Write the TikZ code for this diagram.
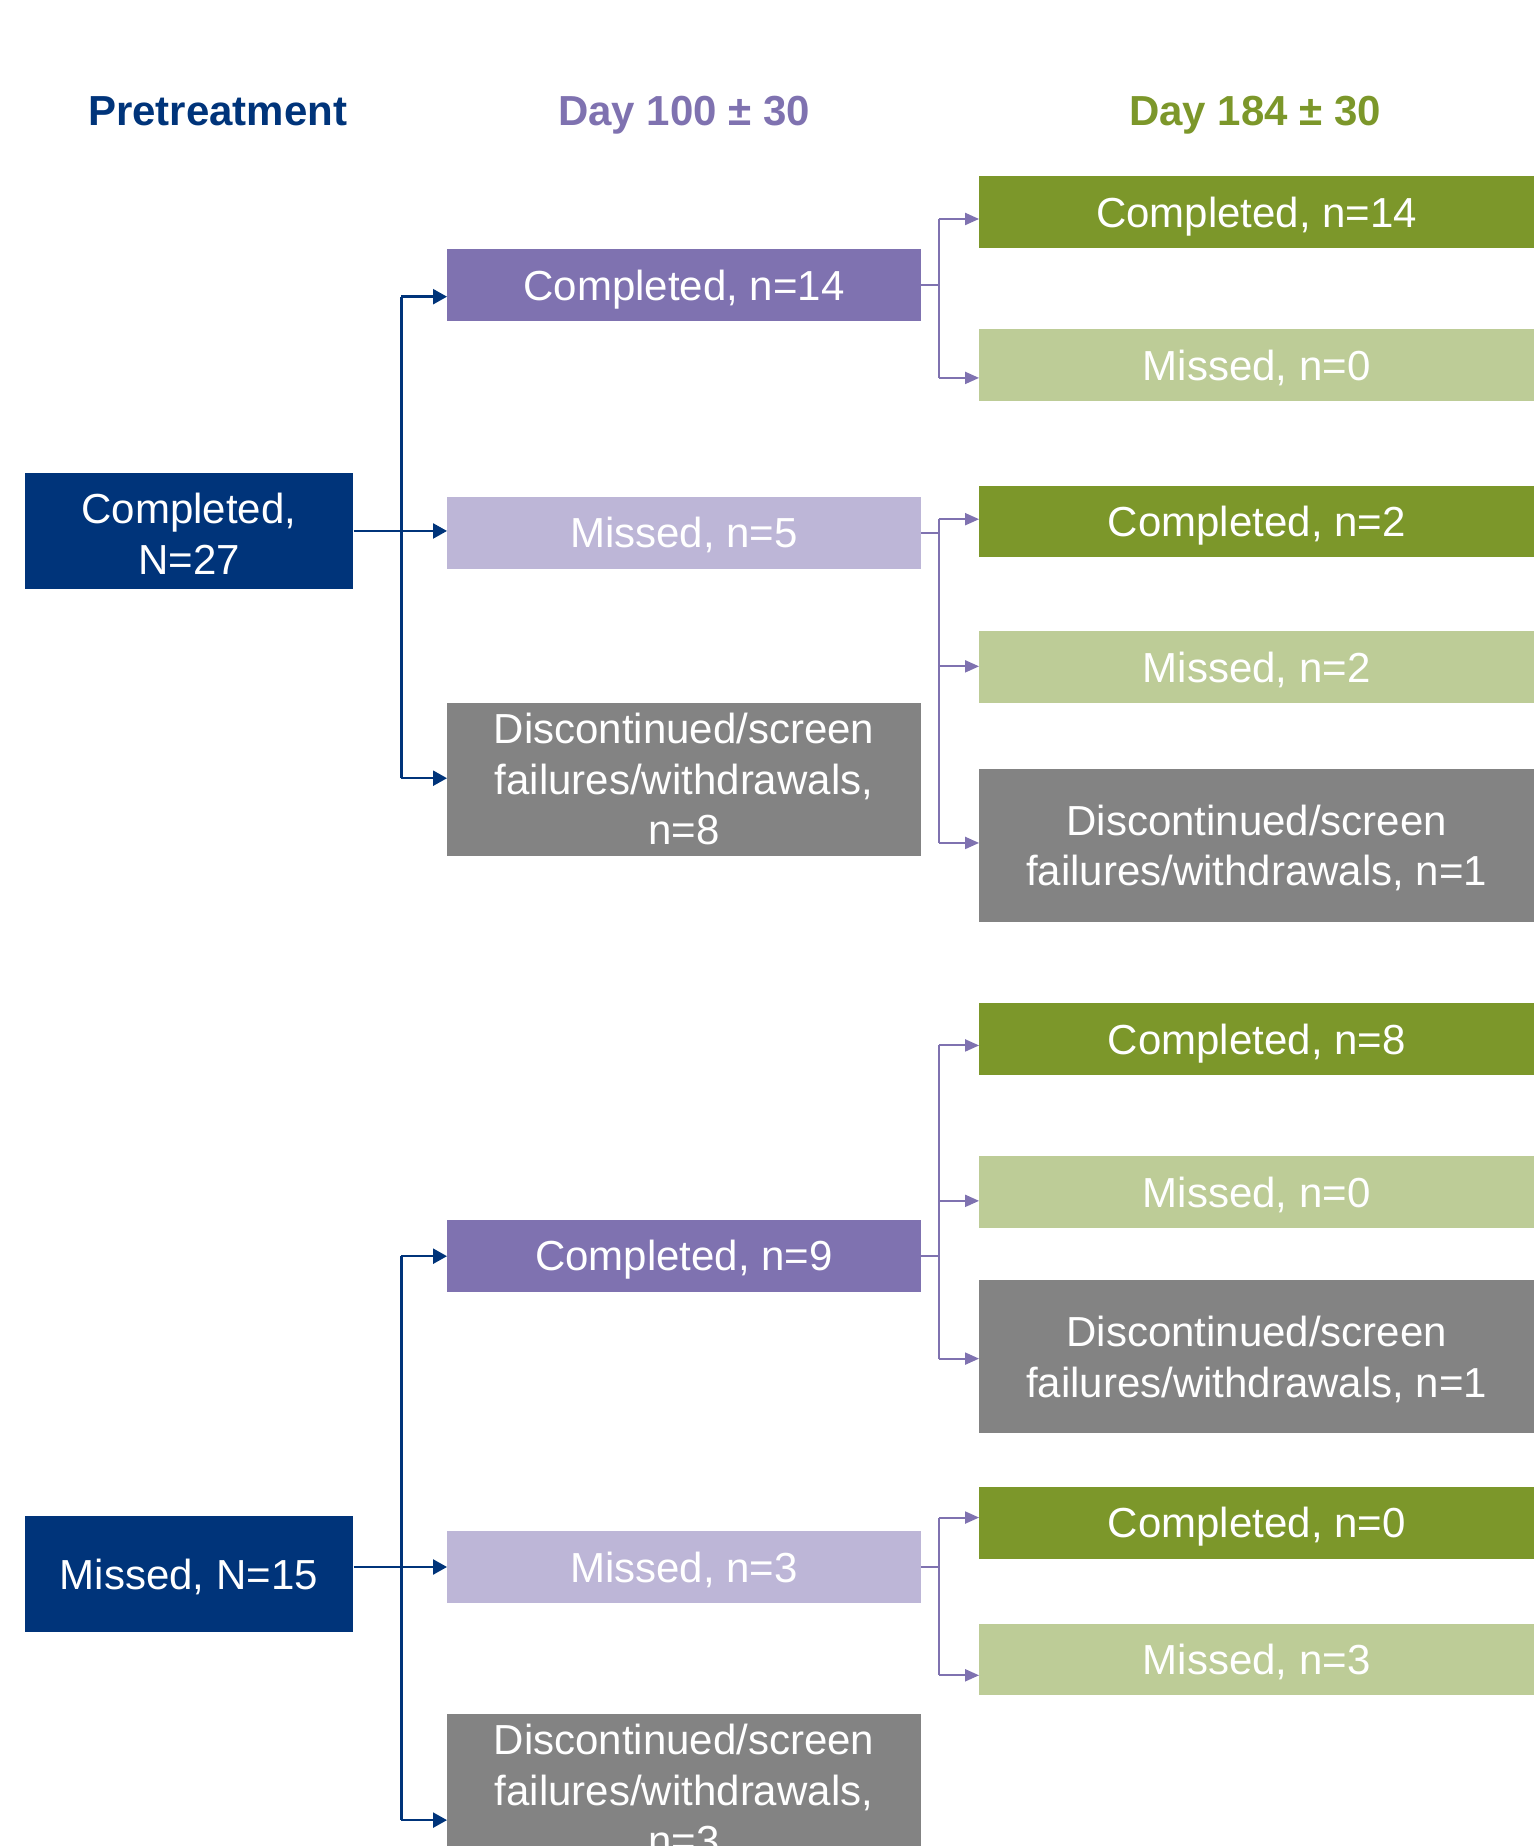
\documentclass[tikz,border=0pt]{standalone}
\usepackage{fontspec}
\setmainfont{Liberation Sans}
\usetikzlibrary{arrows.meta}
\definecolor{dblue}{RGB}{0,52,122}
\definecolor{purp}{RGB}{127,114,176}
\definecolor{lav}{RGB}{189,182,215}
\definecolor{olive}{RGB}{124,151,42}
\definecolor{lgreen}{RGB}{189,204,151}
\definecolor{gry}{RGB}{131,131,131}
\begin{document}
\begin{tikzpicture}[x=0.58865pt,y=-0.58865pt,
  box/.style={rectangle, inner sep=0pt, text=white, align=center, font=\fontsize{21}{25.3}\selectfont},
  oneline/.style={text height=15.1pt, text depth=0pt},
  lbox/.style={box, fill=dblue, minimum width=164.2pt, minimum height=57.7pt},
  mbox/.style={box, oneline, minimum width=236.6pt, minimum height=35.9pt},
  mtall/.style={box, minimum width=236.6pt, minimum height=76.5pt},
  rbox/.style={box, oneline, minimum width=277.3pt, minimum height=35.9pt},
  rtall/.style={box, minimum width=277.3pt, minimum height=76.5pt},
  ttl/.style={anchor=base, font=\fontsize{21}{25.3}\selectfont\bfseries},
  bline/.style={draw=dblue, line width=1.2pt},
  barr/.style={bline, -{Triangle[length=7pt,width=7.5pt]}},
  pline/.style={draw=purp, line width=1pt},
  parr/.style={pline, -{Triangle[length=7pt,width=6pt]}}
]
\useasboundingbox (0,0) rectangle (1303,1568);
\clip (0,0) rectangle (1303,1568);

% titles
\node[ttl, text=dblue] (t1) at (185,107) {Pretreatment};
\node[ttl, text=purp] (t2) at (581,107) {Day 100 ± 30};
\node[ttl, text=olive] (t3) at (1066,107) {Day 184 ± 30};

% left column
\node[lbox] (L1) at (160.5,451) {\rule{0pt}{0.85em}Completed,\\N=27};
\node[lbox, oneline] (L2) at (160.5,1337) {Missed, N=15};

% middle column
\node[mbox, fill=purp] (M1) at (581,242) {Completed, n=14};
\node[mbox, fill=lav] (M2) at (581,452.5) {Missed, n=5};
\node[mtall, fill=gry] (M3) at (581,662) {Discontinued/screen\\failures/withdrawals,\\n=8};
\node[mbox, fill=purp] (M4) at (581,1066.5) {Completed, n=9};
\node[mbox, fill=lav] (M5) at (581,1331) {Missed, n=3};
\node[mtall, fill=gry] (M6) at (581,1520.5) {Discontinued/screen\\failures/withdrawals,\\n=3};

% right column
\node[rbox, fill=olive] (R1) at (1067.5,180) {Completed, n=14};
\node[rbox, fill=lgreen] (R2) at (1067.5,310) {Missed, n=0};
\node[rbox, fill=olive] (R3) at (1067.5,443) {Completed, n=2};
\node[rbox, fill=lgreen] (R4) at (1067.5,566.5) {Missed, n=2};
\node[rtall, fill=gry] (R5) at (1067.5,718) {\rule{0pt}{0.85em}Discontinued/screen\\failures/withdrawals, n=1};
\node[rbox, fill=olive] (R6) at (1067.5,882.5) {Completed, n=8};
\node[rbox, fill=lgreen] (R7) at (1067.5,1012.5) {Missed, n=0};
\node[rtall, fill=gry] (R8) at (1067.5,1152.5) {\rule{0pt}{0.85em}Discontinued/screen\\failures/withdrawals, n=1};
\node[rbox, fill=olive] (R9) at (1067.5,1293.5) {Completed, n=0};
\node[rbox, fill=lgreen] (R10) at (1067.5,1409.5) {Missed, n=3};

% blue connectors, top
\coordinate (bt1) at (341,252);
\coordinate (bb1) at (341,661);
\draw[bline] (bt1) -- (bb1);
\draw[barr] (L1.east) -- (M2.west |- L1.east);
\draw[barr] (bt1) -- (M1.west |- bt1);
\draw[barr] (bb1) -- (M3.west |- bb1);

% blue connectors, bottom
\coordinate (bt2) at (341,1067);
\coordinate (bb2) at (341,1546);
\draw[bline] (bt2) -- (bb2);
\draw[barr] (L2.east |- M5.west) -- (M5.west);
\draw[barr] (bt2) -- (M4.west |- bt2);
\draw[barr] (bb2) -- (M6.west |- bb2);

% purple connectors group A
\coordinate (pa1) at (798,186);
\coordinate (pa2) at (798,321);
\draw[pline] (M1.east) -- (M1.east -| pa1);
\draw[pline] (pa1) -- (pa2);
\draw[parr] (pa1) -- (R1.west |- pa1);
\draw[parr] (pa2) -- (R2.west |- pa2);

% group B
\coordinate (pb1) at (798,441);
\coordinate (pb2) at (798,566);
\coordinate (pb3) at (798,716);
\draw[pline] (M2.east) -- (M2.east -| pb1);
\draw[pline] (pb1) -- (pb3);
\draw[parr] (pb1) -- (R3.west |- pb1);
\draw[parr] (pb2) -- (R4.west |- pb2);
\draw[parr] (pb3) -- (R5.west |- pb3);

% group C
\coordinate (pc1) at (798,888);
\coordinate (pc2) at (798,1020);
\coordinate (pc3) at (798,1154);
\draw[pline] (M4.east) -- (M4.east -| pc1);
\draw[pline] (pc1) -- (pc3);
\draw[parr] (pc1) -- (R6.west |- pc1);
\draw[parr] (pc2) -- (R7.west |- pc2);
\draw[parr] (pc3) -- (R8.west |- pc3);

% group D
\coordinate (pd1) at (798,1289);
\coordinate (pd2) at (798,1423);
\draw[pline] (M5.east) -- (M5.east -| pd1);
\draw[pline] (pd1) -- (pd2);
\draw[parr] (pd1) -- (R9.west |- pd1);
\draw[parr] (pd2) -- (R10.west |- pd2);
\end{tikzpicture}
\end{document}
